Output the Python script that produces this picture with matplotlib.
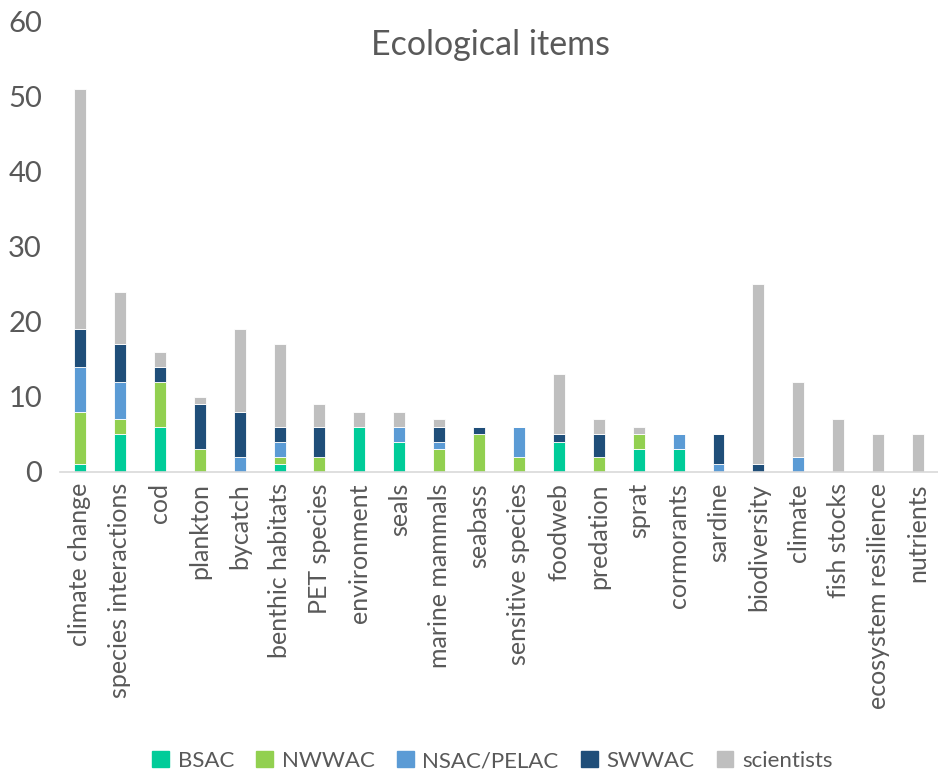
import numpy as np
import matplotlib.pyplot as plt
from matplotlib.patches import Patch

items = ["climate change", "species interactions", "cod", "plankton", "bycatch",
         "benthic habitats", "PET species", "environment", "seals", "marine mammals",
         "seabass", "sensitive species", "foodweb", "predation", "sprat", "cormorants",
         "sardine", "biodiversity", "climate", "fish stocks", "ecosystem resilience",
         "nutrients"]

bsac       = [1, 5, 6, 0, 0, 1, 0, 6, 4, 0, 0, 0, 4, 0, 3, 3, 0, 0, 0, 0, 0, 0]
nwwac      = [7, 2, 6, 3, 0, 1, 2, 0, 0, 3, 5, 2, 0, 2, 2, 0, 0, 0, 0, 0, 0, 0]
nsac_pelac = [6, 5, 0, 0, 2, 2, 0, 0, 2, 1, 0, 4, 0, 0, 0, 2, 1, 0, 2, 0, 0, 0]
swwac      = [5, 5, 2, 6, 6, 2, 4, 0, 0, 2, 1, 0, 1, 3, 0, 0, 4, 1, 0, 0, 0, 0]
scientists = [32, 7, 2, 1, 11, 11, 3, 2, 2, 1, 0, 0, 8, 2, 1, 0, 0, 24, 10, 7, 5, 5]

series = [("BSAC", bsac, "#00CC99"),
          ("NWWAC", nwwac, "#92D050"),
          ("NSAC/PELAC", nsac_pelac, "#5B9BD5"),
          ("SWWAC", swwac, "#1F4E79"),
          ("scientists", scientists, "#BFBFBF")]

plt.rcParams['font.family'] = ['Lato', 'DejaVu Sans']
text_col = "#595959"

fig = plt.figure(figsize=(9.38, 7.75), dpi=100)
ax = fig.add_axes([0.064, 0.391, 0.936, 0.581])

x = np.arange(len(items))
bottom = np.zeros(len(items))
for name, vals, col in series:
    vals = np.array(vals, dtype=float)
    ax.bar(x, vals, width=0.3, bottom=bottom, color=col, edgecolor="white",
           linewidth=0.6, label=name)
    bottom += vals

ax.set_xlim(-0.5, len(items) - 0.5)
ax.set_ylim(0, 60)
ax.set_yticks(range(0, 61, 10))
ax.set_xticks(x)
ax.set_xticklabels(items, rotation=90, fontsize=18, color=text_col)
ax.tick_params(axis='y', length=0, pad=13, labelsize=21, labelcolor=text_col)
ax.tick_params(axis='x', length=0, pad=8)
for s in ["top", "right", "left"]:
    ax.spines[s].set_visible(False)
ax.spines["bottom"].set_color("#D9D9D9")
ax.spines["bottom"].set_linewidth(1.2)

fig.text(0.523, 0.942, "Ecological items", ha="center", va="center",
         fontsize=24.5, color=text_col)

handles = [Patch(color=col, label=name) for name, _, col in series]
fig.legend(handles=handles, loc="center", bbox_to_anchor=(0.525, 0.018),
           ncol=5, frameon=False, fontsize=16, labelcolor=text_col,
           handlelength=0.75, handleheight=0.75, handletextpad=0.4,
           columnspacing=1.0)

fig.savefig("out.png", dpi=100)
